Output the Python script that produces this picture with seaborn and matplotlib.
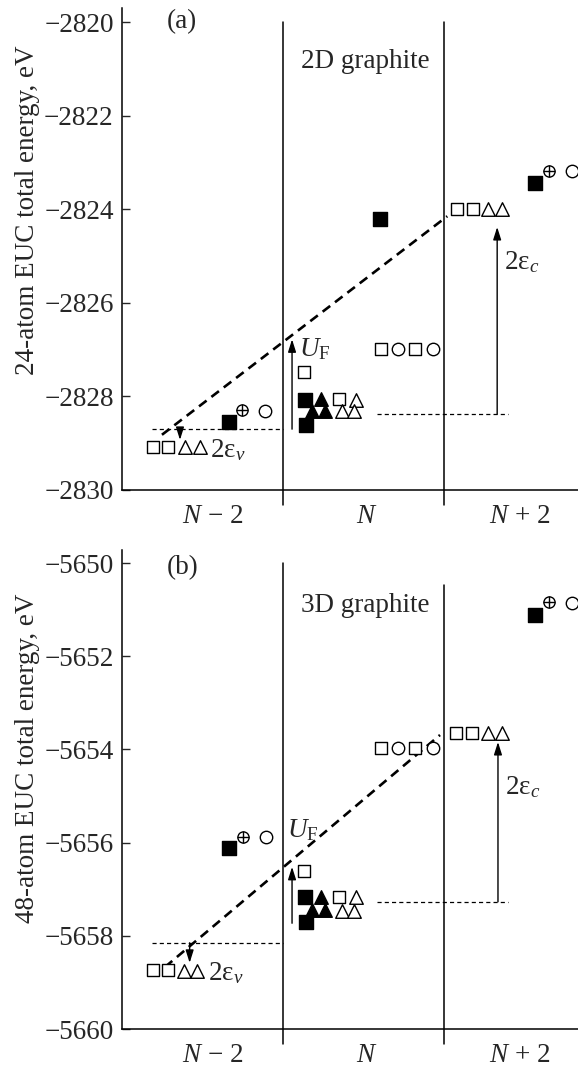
import matplotlib
matplotlib.use("Agg")
import matplotlib.pyplot as plt
import seaborn as sns
import pandas as pd

# ---------------- data ----------------
categories = ["$N$ \u2212 2", "$N$", "$N$ + 2"]
category_pos = [0.56, 1.52, 2.47]
dividers = [1.0, 2.0]

# panel (a): 24-atom EUC, 2D graphite
a_x = [0.193, 0.286, 1.130, 1.348, 1.609, 1.820, 2.081, 2.180,      # open squares
       0.391, 0.484, 1.453, 1.366, 1.441, 2.273, 2.360,             # open triangles
       0.665, 1.137, 1.143, 1.602, 2.565,                           # filled squares
       1.236, 1.180, 1.261,                                         # filled triangles
       0.888, 1.714, 1.932, 2.795,                                  # open circles
       0.745, 2.652]                                                # circled plus
a_E = [-2829.08, -2829.08, -2827.48, -2828.06, -2826.99, -2826.99, -2824.00, -2824.00,
       -2829.08, -2829.08, -2828.08, -2828.31, -2828.31, -2824.00, -2824.00,
       -2828.55, -2828.08, -2828.61, -2824.20, -2823.44,
       -2828.06, -2828.31, -2828.31,
       -2828.31, -2826.99, -2826.99, -2823.18,
       -2828.29, -2823.18]
a_kind = (["open square"] * 8 + ["open triangle"] * 7 + ["filled square"] * 5 +
          ["filled triangle"] * 3 + ["open circle"] * 4 + ["circled plus"] * 2)
a_fit_x = [0.248, 2.02]
a_fit_E = [-2828.82, -2824.15]
a_level_v = -2828.70
a_level_c = -2828.38
a_UF = (1.056, -2828.70, -2826.78)
a_ev = (0.36, -2828.70, -2828.93)
a_ec = (2.33, -2828.38, -2824.38)

# panel (b): 48-atom EUC, 3D graphite
b_x = [0.193, 0.286, 1.130, 1.348, 1.609, 1.820, 2.075, 2.174,
       0.385, 0.466, 1.453, 1.366, 1.441, 2.273, 2.360,
       0.665, 1.137, 1.143, 2.565,
       1.236, 1.180, 1.261,
       0.894, 1.714, 1.932, 2.795,
       0.752, 2.652]
b_E = [-5658.73, -5658.73, -5656.61, -5657.17, -5653.97, -5653.97, -5653.65, -5653.65,
       -5658.76, -5658.76, -5657.17, -5657.47, -5657.47, -5653.65, -5653.65,
       -5656.12, -5657.17, -5657.70, -5651.12,
       -5657.17, -5657.45, -5657.45,
       -5655.88, -5653.97, -5653.97, -5650.86,
       -5655.88, -5650.84]
b_kind = (["open square"] * 8 + ["open triangle"] * 7 + ["filled square"] * 4 +
          ["filled triangle"] * 3 + ["open circle"] * 4 + ["circled plus"] * 2)
b_fit_x = [0.267, 1.975]
b_fit_E = [-5658.67, -5653.69]
b_level_v = -5658.15
b_level_c = -5657.27
b_UF = (1.056, -5657.73, -5656.52)
b_ev = (0.42, -5658.15, -5658.58)
b_ec = (2.335, -5657.27, -5653.84)

# ---------------- style ----------------
sns.set_theme(style="ticks")
plt.rcParams["font.family"] = ["Liberation Serif", "DejaVu Serif"]
plt.rcParams["mathtext.fontset"] = "custom"
plt.rcParams["mathtext.rm"] = "Liberation Serif"
plt.rcParams["mathtext.it"] = "Liberation Serif:italic"
plt.rcParams["mathtext.bf"] = "Liberation Serif:bold"
FS = 19.5

markers = {"open square": "s", "open triangle": "^", "filled square": "s",
           "filled triangle": "^", "open circle": "o", "circled plus": "o"}
faces = {"open square": "white", "open triangle": "white", "filled square": "black",
         "filled triangle": "black", "open circle": "white", "circled plus": "white"}
sizes = {"open square": 80, "open triangle": 95, "filled square": 90,
         "filled triangle": 95, "open circle": 80, "circled plus": 65}

fig = plt.figure(figsize=(5.78, 10.68), dpi=100)
ax_a = fig.add_axes([0.2111, 0.5412, 0.7889, 0.4513])
ax_b = fig.add_axes([0.2111, 0.0365, 0.7889, 0.4485])


def draw(ax, xs, Es, kinds, fit_x, fit_E, lv, lc, UF, ev, ec, ylim, yticks,
         ylabel, label_y, tag, title, div_top, UF_txt, ev_txt, ec_txt):
    df = pd.DataFrame({"x": xs, "E": Es, "kind": kinds})
    # fit (dashed) line
    sns.lineplot(x=fit_x, y=fit_E, ax=ax, color="black", lw=1.9,
                 linestyle=(0, (3.6, 2.3)), zorder=2)
    # dotted levels
    ax.hlines(lv, 0.186, 1.0, colors="black", lw=0.9, linestyles=(0, (3.3, 2.5)))
    ax.hlines(lc, 1.584, 2.40, colors="black", lw=0.9, linestyles=(0, (3.3, 2.5)))
    # markers
    for k in markers:
        sub = df[df["kind"] == k]
        if sub.empty:
            continue
        sns.scatterplot(data=sub, x="x", y="E", ax=ax, marker=markers[k],
                        color=faces[k], edgecolor="black", linewidth=1.0,
                        s=sizes[k], zorder=4, legend=False, clip_on=False)
        if k == "circled plus":
            sns.scatterplot(data=sub, x="x", y="E", ax=ax, marker="+",
                            color="black", linewidth=1.0, s=65, zorder=5,
                            legend=False, clip_on=False)
    # arrows
    for (xa, y0, y1) in (UF, ev, ec):
        ax.annotate("", xy=(xa, y1), xytext=(xa, y0),
                    arrowprops=dict(arrowstyle="-|>,head_length=0.38,head_width=0.12",
                                    lw=1.0, color="black",
                                    mutation_scale=20, shrinkA=0, shrinkB=0),
                    zorder=3)
    # texts
    ax.text(UF_txt[0], UF_txt[1], r"$U_\mathrm{F}$", fontsize=FS, ha="center", va="center")
    ax.text(ev_txt[0], ev_txt[1], "2ε$_{v}$", fontsize=FS, ha="left", va="center")
    ax.text(ec_txt[0], ec_txt[1], "2ε$_{c}$", fontsize=FS, ha="left", va="center")
    ax.text(tag[0], tag[1], tag[2], fontsize=FS, ha="left", va="center")
    ax.text(title[0], title[1], title[2], fontsize=FS, ha="center", va="center")
    # dividers extending below the axis like ticks
    for d, top in zip(dividers, div_top):
        ax.axvline(d, ymin=-0.031, ymax=top, color="black", lw=1.1, clip_on=False)
    ax.set_xlim(0, 2.832)
    ax.set_ylim(*ylim)
    ax.set_yticks(yticks)
    ax.set_yticklabels([f"\u2212{abs(v)}" for v in yticks])
    ax.set_xticks(category_pos)
    ax.set_xticklabels(categories)
    ax.tick_params(axis="x", length=0, pad=10, labelsize=FS)
    ax.tick_params(axis="y", direction="in", length=6, width=1.0, pad=6, labelsize=FS)
    ax.set_ylabel(ylabel, fontsize=FS)
    ax.yaxis.set_label_coords(-0.18, label_y)
    ax.set_xlabel("")
    for s in ("top", "right"):
        ax.spines[s].set_visible(False)
    for s in ("left", "bottom"):
        ax.spines[s].set_linewidth(1.1)
        ax.spines[s].set_color("black")


draw(ax_a, a_x, a_E, a_kind, a_fit_x, a_fit_E, a_level_v, a_level_c,
     a_UF, a_ev, a_ec, (-2830, -2819.70), [-2830, -2828, -2826, -2824, -2822, -2820],
     "24-atom EUC total energy, eV", 0.58, (0.28, -2820.0, "(a)"),
     (1.51, -2820.85, "2D graphite"), (0.971, 0.971),
     (1.20, -2827.0), (0.547, -2829.15), (2.37, -2825.13))

draw(ax_b, b_x, b_E, b_kind, b_fit_x, b_fit_E, b_level_v, b_level_c,
     b_UF, b_ev, b_ec, (-5660, -5649.72), [-5660, -5658, -5656, -5654, -5652, -5650],
     "48-atom EUC total energy, eV", 0.566, (0.28, -5650.09, "(b)"),
     (1.51, -5650.9, "3D graphite"), (0.973, 0.927),
     (1.12, -5655.73), (0.534, -5658.8), (2.38, -5654.81))

fig.savefig("out.png", dpi=100)
